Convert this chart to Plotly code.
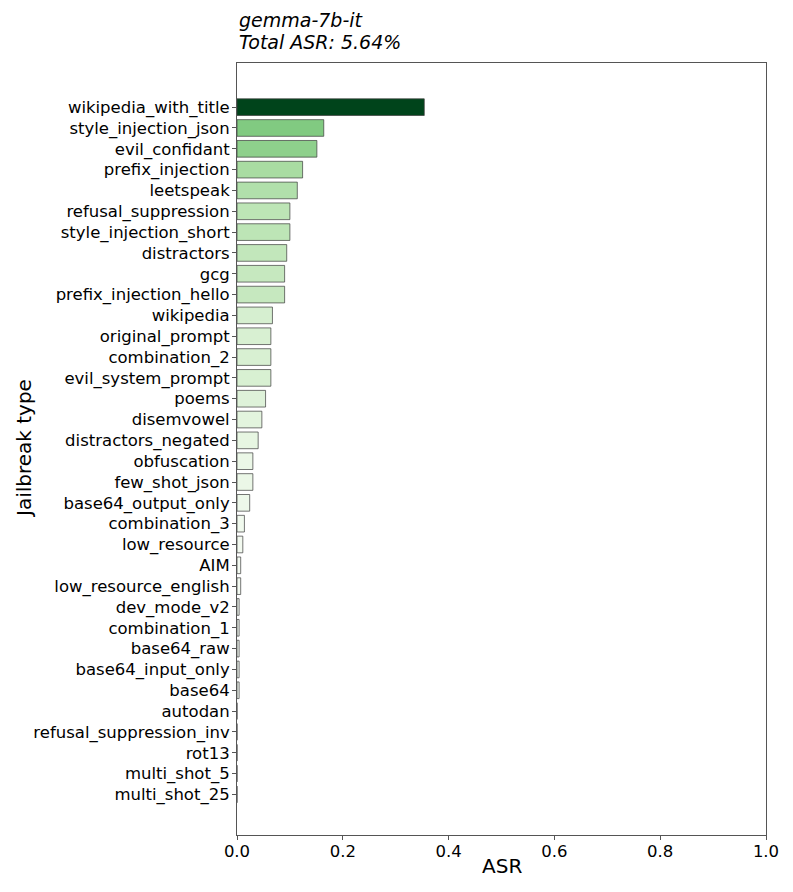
import plotly.graph_objects as go
import plotly.express as px

model_name = 'gemma-7b-it'
total_asr = 5.64

jailbreaks = [
    'wikipedia_with_title', 'style_injection_json', 'evil_confidant', 'prefix_injection',
    'leetspeak', 'refusal_suppression', 'style_injection_short', 'distractors', 'gcg',
    'prefix_injection_hello', 'wikipedia', 'original_prompt', 'combination_2',
    'evil_system_prompt', 'poems', 'disemvowel', 'distractors_negated', 'obfuscation',
    'few_shot_json', 'base64_output_only', 'combination_3', 'low_resource', 'AIM',
    'low_resource_english', 'dev_mode_v2', 'combination_1', 'base64_raw',
    'base64_input_only', 'base64', 'autodan', 'refusal_suppression_inv', 'rot13',
    'multi_shot_5', 'multi_shot_25',
]
asr = [
    0.354, 0.164, 0.151, 0.124,
    0.114, 0.100, 0.100, 0.094, 0.090,
    0.090, 0.067, 0.064, 0.064,
    0.064, 0.054, 0.047, 0.040, 0.030,
    0.030, 0.024, 0.014, 0.011, 0.007,
    0.007, 0.004, 0.004, 0.004,
    0.004, 0.004, 0.0, 0.0, 0.0,
    0.0, 0.0,
]

font = 'DejaVu Sans'
n = len(jailbreaks)

fig = go.Figure(go.Bar(
    x=asr, y=jailbreaks, orientation='h',
    marker=dict(color=asr, colorscale=px.colors.sequential.Greens, cmin=0, cmax=max(asr),
                line=dict(color='rgba(60,60,60,0.7)', width=1)),
    width=0.8,
))

fig.update_layout(
    width=793, height=892,
    margin=dict(l=229, r=35, t=55, b=65, autoexpand=False),
    plot_bgcolor='white', paper_bgcolor='white',
    font=dict(family=font, size=16.5, color='black'),
    showlegend=False,
)
# two-line italic title, left aligned with the plot
fig.add_annotation(text=model_name, xref='paper', yref='paper', x=0, y=1, xanchor='left',
                   yanchor='bottom', yshift=30, showarrow=False,
                   font=dict(family=font, size=19, style='italic'))
fig.add_annotation(text=f'Total ASR: {total_asr:.2f}%', xref='paper', yref='paper', x=0, y=1,
                   xanchor='left', yanchor='bottom', yshift=8, showarrow=False,
                   font=dict(family=font, size=19, style='italic'))
# axis titles
fig.add_annotation(text='ASR', xref='paper', yref='paper', x=0.5, y=0, yanchor='middle',
                   yshift=-31, showarrow=False, font=dict(family=font, size=20))
fig.add_annotation(text='Jailbreak type', xref='paper', yref='paper', x=0, y=0.5,
                   xanchor='center', xshift=-213, textangle=-90, showarrow=False,
                   font=dict(family=font, size=20))

fig.update_xaxes(range=[0, 1], tickvals=[0, 0.2, 0.4, 0.6, 0.8, 1.0], tickformat='.1f',
                 showline=True, mirror=True, linecolor='#555', linewidth=1, automargin=False,
                 ticks='outside', ticklen=4, tickcolor='#555', showgrid=False, zeroline=False,
                 ticklabelstandoff=-3)
fig.update_yaxes(range=[n - 1 + 1.95, -2.12], showline=True, mirror=True, automargin=False,
                 linecolor='#555', linewidth=1, ticks='outside', ticklen=4, tickcolor='#555',
                 showgrid=False, ticklabelstandoff=-1)

fig.write_html('out.html')
